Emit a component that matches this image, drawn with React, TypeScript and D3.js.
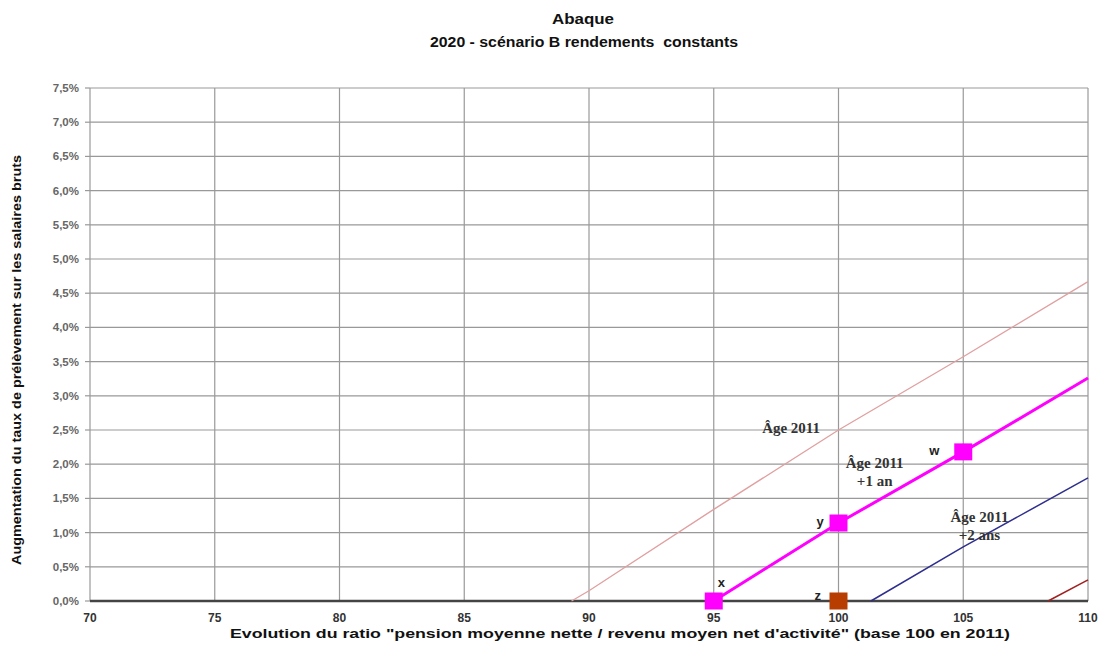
import React from "react";
import * as d3 from "d3";

const xTicks = [70, 75, 80, 85, 90, 95, 100, 105, 110];
const yTicks = [0, 0.5, 1, 1.5, 2, 2.5, 3, 3.5, 4, 4.5, 5, 5.5, 6, 6.5, 7, 7.5];

const age2011: [number, number][] = [[89.3, 0], [90, 0.15], [95, 1.34], [100, 2.5], [105, 3.57], [110, 4.67]];
const age2011p1: [number, number][] = [[95, 0], [100, 1.14], [105, 2.18], [110, 3.26]];
const age2011p2: [number, number][] = [[101.3, 0], [105, 0.79], [110, 1.8]];
const age2011p3: [number, number][] = [[108.4, 0], [110, 0.31]];

const markers = [
  { name: "x", x: 95, y: 0, color: "#ff00ff", dx: 4, dy: -14 },
  { name: "y", x: 100, y: 1.14, color: "#ff00ff", dx: -22, dy: 3 },
  { name: "w", x: 105, y: 2.18, color: "#ff00ff", dx: -34, dy: 3 },
  { name: "z", x: 100, y: 0, color: "#b83d00", dx: -24, dy: -1 },
];

const seriesLabels = [
  { lines: ["Âge 2011"], x: 98.1, y: 2.45 },
  { lines: ["Âge 2011", "+1 an"], x: 101.45, y: 1.94 },
  { lines: ["Âge 2011", "+2 ans"], x: 105.65, y: 1.16 },
];

export default function App() {
  const W = 1099, H = 652;
  const x = d3.scaleLinear().domain([70, 110]).range([90, 1088]);
  const y = d3.scaleLinear().domain([0, 7.5]).range([601, 88]);
  const line = d3.line<[number, number]>().x(d => x(d[0])).y(d => y(d[1]));
  const fmt = (v: number) => v.toFixed(1).replace(".", ",") + "%";
  return (
    <svg width={W} height={H} style={{ position: "absolute", left: 0, top: 0, background: "#fff" }}
      fontFamily="Liberation Sans, Arial, sans-serif">
      <text x={583} y={24} textAnchor="middle" fontSize={14} fontWeight="bold" fill="#111"
        textLength={62} lengthAdjust="spacingAndGlyphs">Abaque</text>
      <text x={584} y={47} textAnchor="middle" fontSize={14} fontWeight="bold" fill="#111" xmlSpace="preserve"
        textLength={308} lengthAdjust="spacingAndGlyphs">2020 - scénario B rendements  constants</text>
      {yTicks.map(t => (
        <g key={"y" + t}>
          <line x1={x(70)} x2={x(110)} y1={y(t)} y2={y(t)} stroke="#999" strokeWidth={1.2} />
          <line x1={x(70) - 5} x2={x(70)} y1={y(t)} y2={y(t)} stroke="#999" strokeWidth={1.2} />
          <text x={79} y={y(t) + 4} textAnchor="end" fontSize={11.5} fontWeight="bold" fill="#666">{fmt(t)}</text>
        </g>
      ))}
      {xTicks.map(t => (
        <g key={"x" + t}>
          <line x1={x(t)} x2={x(t)} y1={y(0)} y2={y(7.5)} stroke="#999" strokeWidth={1.2} />
          <text x={x(t)} y={622} textAnchor="middle" fontSize={12} fontWeight="bold" fill="#333">{t}</text>
        </g>
      ))}
      <line x1={x(70)} x2={x(110)} y1={y(0)} y2={y(0)} stroke="#444" strokeWidth={2.5} />
      <path d={line(age2011) || ""} fill="none" stroke="#e0a0a0" strokeWidth={1.3} />
      <path d={line(age2011p2) || ""} fill="none" stroke="#2e2e8e" strokeWidth={1.5} />
      <path d={line(age2011p3) || ""} fill="none" stroke="#a02020" strokeWidth={1.5} />
      <path d={line(age2011p1) || ""} fill="none" stroke="#ff00ff" strokeWidth={3} />
      {markers.map(m => (
        <g key={m.name}>
          <rect x={x(m.x) - 9} y={y(m.y) - 8.5} width={18} height={17} fill={m.color} />
          <text x={x(m.x) + m.dx} y={y(m.y) + m.dy} fontSize={13} fontWeight="bold" fill="#222">{m.name}</text>
        </g>
      ))}
      {seriesLabels.map((s, i) => (
        <text key={i} x={x(s.x)} y={y(s.y)} textAnchor="middle" fontSize={15} fontWeight="bold"
          fontFamily="Liberation Serif, Times New Roman, serif" fill="#333">
          {s.lines.map((l, j) => <tspan key={j} x={x(s.x)} dy={j === 0 ? 0 : 18}>{l}</tspan>)}
        </text>
      ))}
      <text transform={`translate(21,360) rotate(-90)`} textAnchor="middle" fontSize={12} fontWeight="bold" fill="#111"
        textLength={410} lengthAdjust="spacingAndGlyphs">
        Augmentation du taux de prélèvement sur les salaires bruts
      </text>
      <text x={620} y={638} textAnchor="middle" fontSize={12} fontWeight="bold" fill="#111"
        textLength={780} lengthAdjust="spacingAndGlyphs">
        Evolution du ratio "pension moyenne nette / revenu moyen net d'activité" (base 100 en 2011)
      </text>
    </svg>
  );
}
